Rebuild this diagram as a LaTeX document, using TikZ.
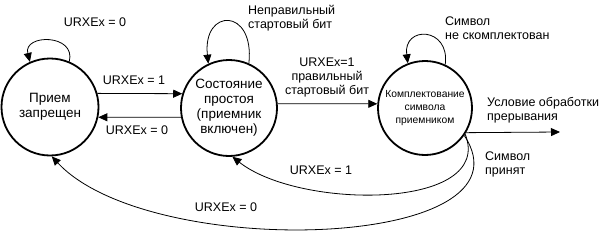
\documentclass[tikz,border=0pt]{standalone}
\usepackage{fontspec}
\setmainfont{Liberation Sans}
\usetikzlibrary{arrows.meta}
\begin{document}
\begin{tikzpicture}[x=1pt,y=-1pt,
  state/.style={circle,draw,line width=1.8pt,inner sep=0pt,align=center,font=\fontsize{13.5}{15}\selectfont},
  lbl/.style={inner sep=0pt,font=\fontsize{12.5}{14}\selectfont},
  conn/.style={line width=0.8pt,-{Triangle[length=9pt,width=8pt]}}]
\useasboundingbox (0,0) rectangle (600,233);
\node[state,minimum size=97pt] (c1) at (50,107) {Прием\\запрещен};
\node[state,minimum size=96pt] (c2) at (229,108) {Состояние\\простоя\\(приемник\\включен)};
\node[state,minimum size=94pt,font=\fontsize{10.3}{13}\selectfont] (c3) at (425,108) {Комплектование\\символа\\приемником};
\coordinate (out) at (560,132);
% loops
\draw[conn] (c1.67) .. controls +(7,-28) and +(-7,-28) .. (c1.114);
\draw[conn] (c2.66) .. controls +(6,-56) and +(-6,-56) .. (c2.115);
\draw[conn] (c3.65) .. controls +(5,-38) and +(-5,-38) .. (c3.111);
% straight connectors
\draw[conn] (c1.16) -- (c2.163);
\draw[conn] (c2.-169) -- (c1.-12);
\draw[conn] (c2.5) -- (c3.175);
\draw[conn] (c3.-31) -- (out);
% return curves
\draw[conn] (c3.-33) .. controls (495,210) and (300,210) .. (c2.-86);
\draw[conn] (c3.-35) .. controls (540,250) and (150,262) .. (c1.-88);
% labels
\node[lbl] (l1) at (95,22) {URXEx = 0};
\node[lbl,align=left,anchor=west] (l2) at (248,18.5) {Неправильный\\стартовый бит};
\node[lbl,align=left,anchor=west] (l3) at (445,28.5) {Символ\\не скомплектован};
\node[lbl] (l4) at (134,80) {URXEx = 1};
\node[lbl] (l5) at (137,130) {URXEx = 0};
\node[lbl,align=center] (l6) at (327,77) {URXEx=1\\правильный\\стартовый бит};
\node[lbl,align=left,anchor=west] (l7) at (487,110) {Условие обработки\\прерывания};
\node[lbl,align=left,anchor=west] (l8) at (485,164.5) {Символ\\принят};
\node[lbl] (l9) at (321,170) {URXEx = 1};
\node[lbl] (l10) at (226,207) {URXEx = 0};
\end{tikzpicture}
\end{document}
